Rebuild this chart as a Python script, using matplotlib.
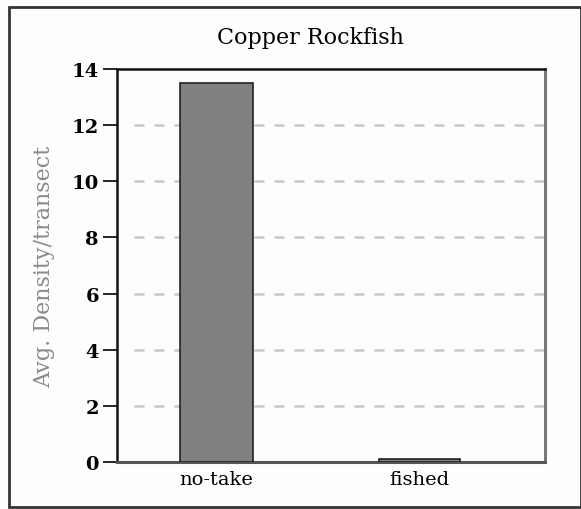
import matplotlib.pyplot as plt
from matplotlib.patches import Rectangle

# per-site mean densities
sites = ['no-take', 'fished']
density = [13.5, 0.1]
y_ticks = [0, 2, 4, 6, 8, 10, 12, 14]
grid_levels = [2, 4, 6, 8, 10, 12]

plt.rcParams['font.family'] = ['DejaVu Serif']

fig = plt.figure(figsize=(5.81, 5.10), dpi=100)
fig.patch.set_facecolor('#fdfdfb')

# outer frame around the whole panel
fig.patches.append(Rectangle((0.016, 0.004), 0.984, 0.98, transform=fig.transFigure,
                             fill=False, edgecolor='#333333', linewidth=2.0))

ax = fig.add_axes([0.2014, 0.0922, 0.7367, 0.7706])
ax.set_facecolor('#fdfdfb')

x = range(len(sites))
ax.bar(x, density, width=[0.36, 0.40], color='#808080', edgecolor='#222222', linewidth=1.2, zorder=3)

for lvl in grid_levels:
    ax.axhline(lvl, xmin=0.04, xmax=1.0, color='#c8c8c8', linestyle=(0, (4, 4)),
               linewidth=1.8, zorder=1)

ax.set_xlim(-0.488, 1.62)
ax.set_ylim(0, 14)
ax.set_yticks(y_ticks)
ax.set_yticklabels([str(t) for t in y_ticks], fontsize=14, fontweight='bold')
ax.set_xticks(list(x))
ax.set_xticklabels(sites, fontsize=14)
ax.tick_params(axis='y', direction='out', length=10, width=1.2, pad=3)
ax.tick_params(axis='x', length=0, pad=6)

ax.spines['left'].set_color('#111111')
ax.spines['left'].set_linewidth(1.8)
ax.spines['top'].set_color('#111111')
ax.spines['top'].set_linewidth(1.8)
ax.spines['right'].set_color('#777777')
ax.spines['right'].set_linewidth(2.2)
ax.spines['bottom'].set_color('#555555')
ax.spines['bottom'].set_linewidth(2.2)

ax.set_ylabel('Avg. Density/transect', fontsize=16, color='#8a8a8a')
ax.yaxis.set_label_coords(-0.145, 0.5)
fig.text(0.535, 0.925, 'Copper Rockfish', ha='center', va='center', fontsize=16)

fig.savefig('out.png', dpi=100, facecolor=fig.get_facecolor())
